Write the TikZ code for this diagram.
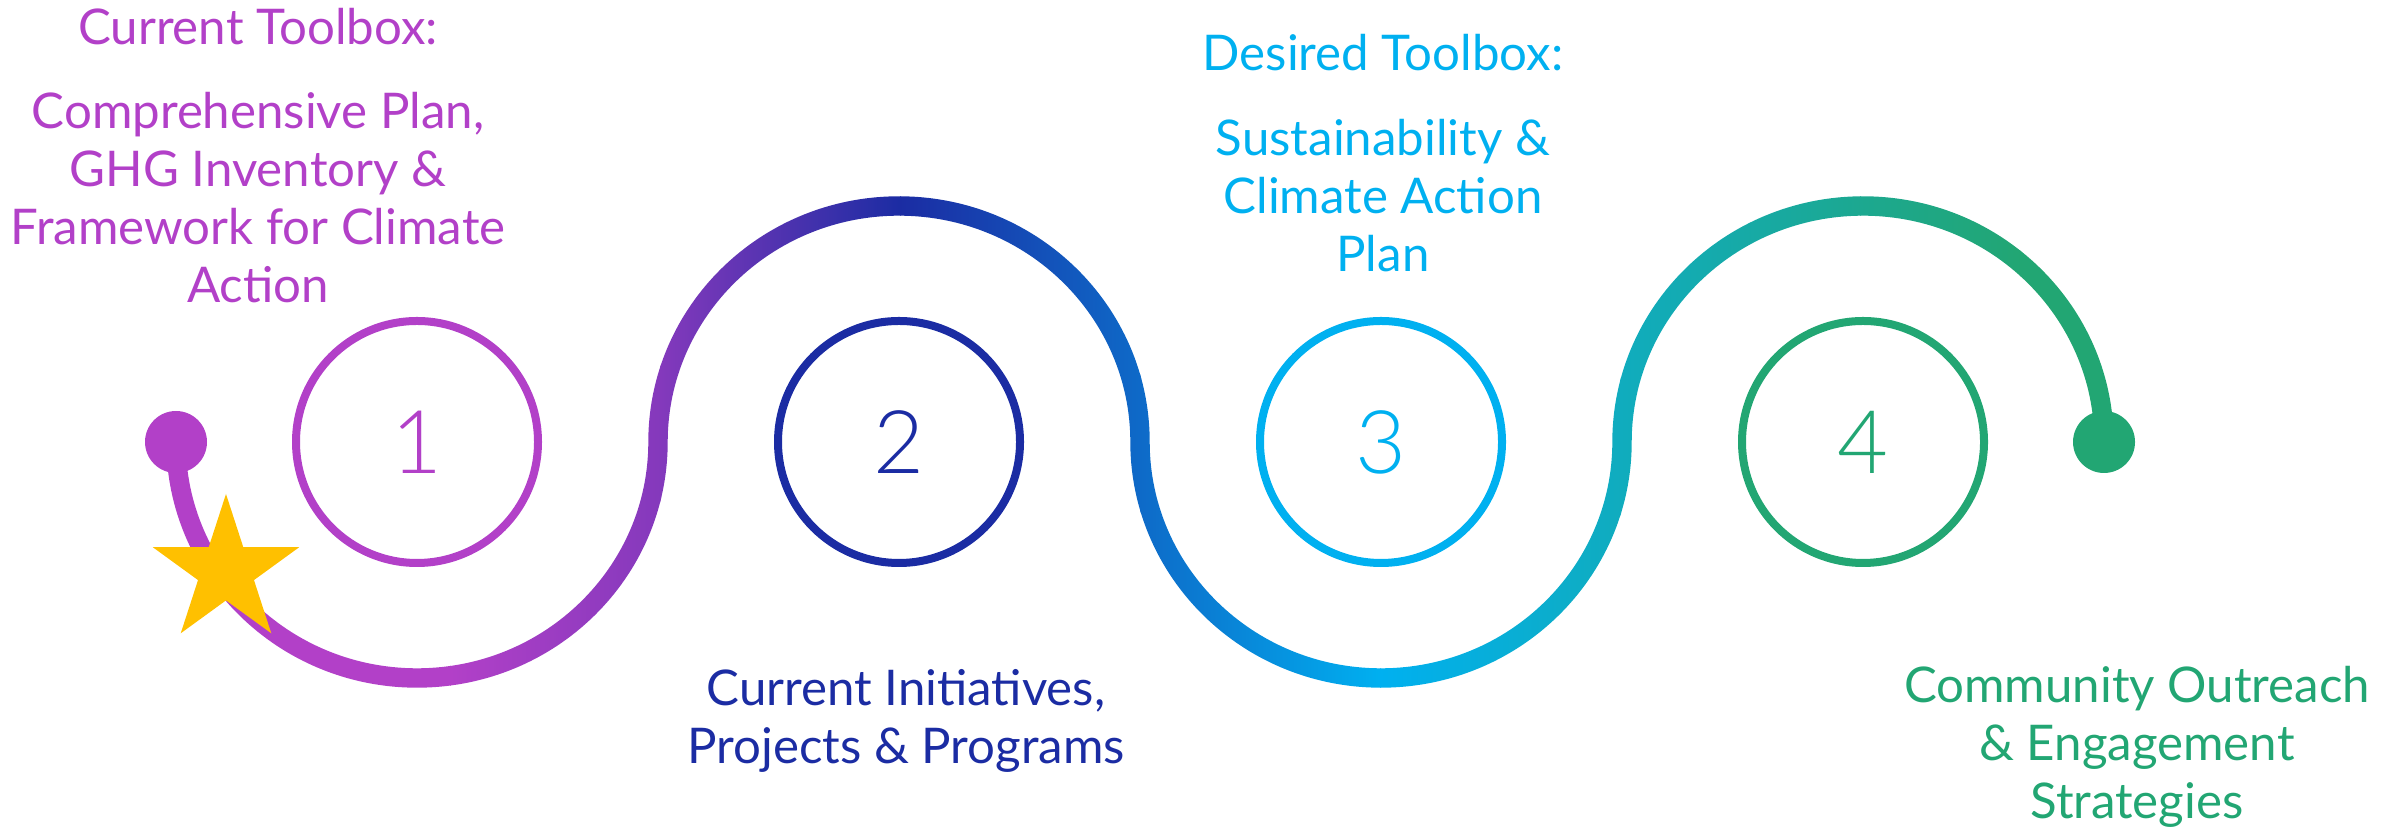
\documentclass[tikz,border=0pt]{standalone}
\usepackage{fontspec}
\setmainfont{Lato}
\IfFontExistsTF{Lato Light}{\newfontfamily\numfont{Lato Light}}{\newfontfamily\numfont{Lato}}
\usepackage{xcolor}
\usetikzlibrary{shapes.geometric}

\definecolor{stepone}{HTML}{B240C8}
\definecolor{steptwo}{HTML}{1B2CA3}
\definecolor{stepthree}{HTML}{00B0F0}
\definecolor{stepfour}{HTML}{22A673}
\definecolor{midviolet}{HTML}{8439BC}
\definecolor{midblue}{HTML}{0E6AC8}
\definecolor{midteal}{HTML}{10ACBE}
\definecolor{midsea}{HTML}{1CA890}
\definecolor{stargold}{HTML}{FFC000}

\tikzset{
  ring/.style={circle, draw=#1, text=#1, line width=0.08cm, minimum size=2.42cm, inner sep=0pt, font=\numfont\fontsize{25}{25}\selectfont},
  knob/.style={circle, fill=#1, minimum size=0.62cm, inner sep=0pt},
  steptext/.style={text=#1, align=center, inner sep=0pt, font=\fontsize{14}{16.5}\selectfont},
}

\begin{document}
\begin{tikzpicture}
\useasboundingbox (0,0) rectangle (23.99,8.29);
\begin{scope}
\clip (1.663,3.87) arc (180:360:2.507 and 2.457) arc (180:0:2.313 and 2.263)
  arc (180:360:2.507 and 2.457) arc (180:0:2.313 and 2.263) -- ++(0.194,0)
  arc (0:180:2.507 and 2.457) arc (360:180:2.313 and 2.263)
  arc (0:180:2.507 and 2.457) arc (360:180:2.313 and 2.263) -- cycle;
\fill[stepone] (1.5,1.2) rectangle (4.51,6.6);
\foreach \xa/\xb/\ca/\cb in {4.5/6.6/stepone/midviolet, 6.6/9.0/midviolet/steptwo, 9.0/11.4/steptwo/midblue, 11.4/13.8/midblue/stepthree, 13.8/16.2/stepthree/midteal, 16.2/18.6/midteal/midsea, 18.6/20.2/midsea/stepfour}
  \shade[left color=\ca, right color=\cb] (\xa,1.2) rectangle ({\xb+0.01},6.6);
\fill[stepfour] (20.2,1.2) rectangle (21.3,6.6);
\end{scope}
\node[knob=stepone] (start) at (1.76,3.87) {};
\node[knob=stepfour] (finish) at (21.04,3.87) {};
\node[star, star points=5, star point ratio=2.618, fill=stargold, minimum size=1.54cm, inner sep=0pt] (goal) at (2.26,2.58) {};
\node[ring=stepone] (c1) at (4.17,3.87) {1};
\node[ring=steptwo] (c2) at (8.99,3.87) {2};
\node[ring=stepthree] (c3) at (13.81,3.87) {3};
\node[ring=stepfour] (c4) at (18.63,3.87) {4};
\node[steptext=stepone, anchor=base] (nowhead) at (2.58,7.84) {Current Toolbox:};
\node[steptext=stepone, anchor=north] (nowtools) at (2.58,7.37) {Comprehensive Plan,\\GHG Inventory \&\\Framework for Climate\\Action};
\node[steptext=steptwo, anchor=north] (initiatives) at (9.06,1.60) {Current Initiatives,\\Projects \& Programs};
\node[steptext=stepthree, anchor=base] (wanthead) at (13.83,7.58) {Desired Toolbox:};
\node[steptext=stepthree, anchor=north] (wanttools) at (13.83,7.10) {Sustainability \&\\Climate Action\\Plan};
\node[steptext=stepfour, anchor=north] (outreach) at (21.37,1.63) {Community Outreach\\\& Engagement\\Strategies};
\end{tikzpicture}
\end{document}
